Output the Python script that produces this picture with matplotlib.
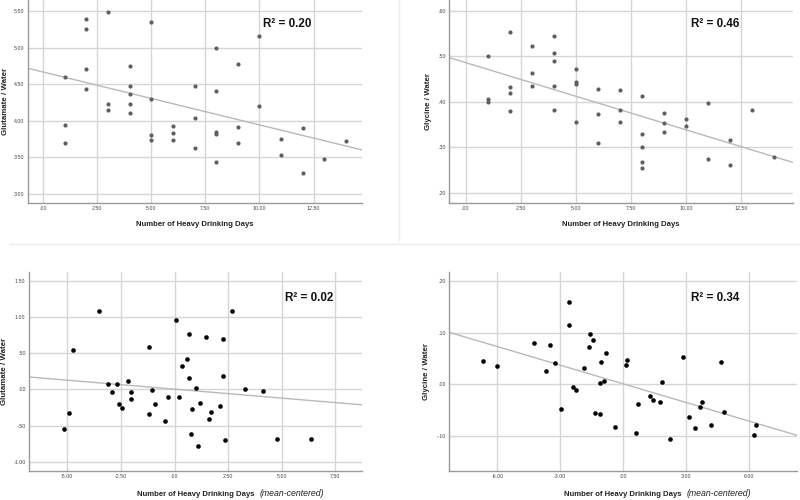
import numpy as np
import matplotlib
matplotlib.use("Agg")
import matplotlib.pyplot as plt
from matplotlib.ticker import FuncFormatter
from matplotlib.lines import Line2D

plt.rcParams['font.family'] = ['Liberation Sans', 'DejaVu Sans']

# ---------------- data ----------------
# Panel A: raw heavy drinking days vs Glutamate/Water
glu_days = [1, 1, 1, 2, 2, 2, 2, 3, 3, 3, 4, 4, 4, 4, 4, 5, 5, 5, 5, 6, 6, 6,
            7, 7, 7, 8, 8, 8, 8, 8, 9, 9, 9, 10, 10, 11, 11, 12, 12, 13, 14]
glu_vals = [4.60, 3.94, 3.70, 5.39, 5.26, 4.70, 4.43, 5.49, 4.23, 4.15,
            4.75, 4.48, 4.37, 4.23, 4.11, 5.35, 4.30, 3.81, 3.73, 3.92, 3.83, 3.73,
            4.48, 4.03, 3.62, 4.99, 4.41, 3.85, 3.82, 3.44, 4.78, 3.91, 3.69,
            5.16, 4.20, 3.75, 3.53, 3.90, 3.28, 3.48, 3.72]

# Panel B: raw heavy drinking days vs Glycine/Water
gly_days = [1, 1, 1, 2, 2, 2, 2, 3, 3, 3, 4, 4, 4, 4, 4, 5, 5, 5, 5, 6, 6, 6,
            7, 7, 7, 8, 8, 8, 8, 8, 9, 9, 9, 10, 10, 11, 11, 12, 12, 13, 14]
gly_vals = [0.500, 0.407, 0.400, 0.553, 0.433, 0.419, 0.381, 0.522, 0.464, 0.436,
            0.545, 0.508, 0.491, 0.436, 0.382, 0.472, 0.444, 0.439, 0.357,
            0.429, 0.373, 0.309, 0.426, 0.382, 0.357, 0.413, 0.329, 0.300, 0.269, 0.255,
            0.375, 0.354, 0.333, 0.362, 0.348, 0.397, 0.275, 0.317, 0.261, 0.383, 0.278]

# Panel C: mean-centered days vs Glutamate/Water (residualized)
gluc_x = [-5.16, -4.92, -4.73, -3.52, -3.08, -2.93, -2.69, -2.61, -2.44, -2.16,
          -2.04, -2.04, -1.20, -1.17, -1.03, -0.93, -0.43, -0.31, 0.07, 0.19,
          0.33, 0.60, 0.66, 0.69, 0.78, 0.81, 1.02, 1.11, 1.20, 1.45, 1.59,
          1.69, 2.11, 2.26, 2.26, 2.37, 2.70, 3.31, 4.12, 4.79, 6.37]
gluc_y = [-0.539, -0.322, 0.549, 1.085, 0.070, -0.041, 0.070, -0.207, -0.258, 0.116,
          -0.030, -0.131, 0.581, -0.336, -0.004, -0.207, -0.437, -0.100, 0.960, -0.102,
          0.324, 0.420, 0.766, 0.158, -0.617, -0.271, 0.019, -0.784, -0.184, 0.729, -0.405,
          -0.308, -0.225, 0.701, 0.180, -0.700, 1.085, 0.001, -0.022, -0.686, -0.686]

# Panel D: mean-centered days vs Glycine/Water (residualized)
glyc_x = [-6.69, -6.03, -4.26, -3.70, -3.48, -3.24, -2.97, -2.58, -2.58, -2.41,
          -2.25, -1.88, -1.61, -1.58, -1.45, -1.34, -1.10, -1.10, -1.05, -0.89,
          -0.83, -0.38, 0.14, 0.19, 0.64, 0.70, 1.29, 1.44, 1.77, 1.87, 2.23,
          2.86, 3.14, 3.43, 3.67, 3.78, 4.21, 4.69, 4.83, 6.25, 6.35]
glyc_y = [0.0448, 0.0345, 0.0797, 0.0254, 0.0758, 0.0409, -0.0470, 0.1600, 0.1147, -0.0056,
          -0.0114, 0.0319, 0.0720, 0.0965, 0.0849, -0.0554, 0.0028, -0.0567, 0.0435, 0.0073,
          0.0603, -0.0826, 0.0383, 0.0468, -0.0949, -0.0373, -0.0218, -0.0296, -0.0347, 0.0041,
          -0.1066, 0.0532, -0.0638, -0.0845, -0.0444, -0.0353, -0.0792, 0.0429, -0.0535,
          -0.0987, -0.0792]

r2_labels = ["R² = 0.20", "R² = 0.46", "R² = 0.02", "R² = 0.34"]
y_labels = ["Glutamate / Water", "Glycine / Water", "Glutamate / Water", "Glycine / Water"]
x_label = "Number of Heavy Drinking Days"
x_label_suffix = "(mean-centered)"

# ---------------- figure ----------------
W, H = 800, 500
fig = plt.figure(figsize=(8, 5), dpi=100)
fig.patch.set_facecolor("white")


def ax_px(left, top, right, bottom):
    return fig.add_axes([left / W, 1 - bottom / H, (right - left) / W, (bottom - top) / H])


def spss_fmt(v, pos=None):
    s = "%.2f" % v
    if s.startswith("0."):
        s = s[1:]
    elif s.startswith("-0."):
        s = "-" + s[2:]
    if s == "-.00":
        s = ".00"
    return s


panels = [
    dict(box=(28, 0, 362, 203), x=glu_days, y=glu_vals, xlim=(-0.694, 14.74), ylim=(2.873, 5.65),
         xt=np.arange(0, 12.51, 2.5), yt=np.arange(3.0, 5.51, 0.5), color="#5f5f5f", s=9,
         r2pos=(0.704, 0.882), ylab_px=5, xlab_px=223, centered=False),
    dict(box=(449, 0, 793, 203), x=gly_days, y=gly_vals, xlim=(-0.755, 14.84), ylim=(0.178, 0.624),
         xt=np.arange(0, 12.51, 2.5), yt=np.arange(0.2, 0.601, 0.1), color="#5f5f5f", s=9,
         r2pos=(0.703, 0.882), ylab_px=428, xlab_px=223, centered=False),
    dict(box=(29, 272, 362, 471), x=gluc_x, y=gluc_y, xlim=(-6.79, 8.75), ylim=(-1.124, 1.62),
         xt=np.arange(-5, 7.51, 2.5), yt=np.arange(-1.0, 1.51, 0.5), color="#000000", s=11,
         r2pos=(0.769, 0.869), ylab_px=5, xlab_px=493, centered=True),
    dict(box=(449, 272, 797, 471), x=glyc_x, y=glyc_y, xlim=(-8.31, 8.31), ylim=(-0.168, 0.2175),
         xt=np.arange(-6, 6.01, 3), yt=np.arange(-0.1, 0.201, 0.1), color="#000000", s=11,
         r2pos=(0.695, 0.869), ylab_px=427, xlab_px=493, centered=True),
]

suffix_jobs = []
for i, p in enumerate(panels):
    left, top, right, bottom = p["box"]
    ax = ax_px(*p["box"])
    ax.set_xlim(*p["xlim"])
    ax.set_ylim(*p["ylim"])
    ax.set_xticks(p["xt"])
    ax.set_yticks(p["yt"])
    ax.xaxis.set_major_formatter(FuncFormatter(spss_fmt))
    ax.yaxis.set_major_formatter(FuncFormatter(spss_fmt))
    ax.grid(True, color="#d6d6d6", linewidth=1.0)
    ax.set_axisbelow(True)
    for side in ("top", "right"):
        ax.spines[side].set_visible(False)
    for side in ("left", "bottom"):
        ax.spines[side].set_color("#9a9a9a")
        ax.spines[side].set_linewidth(1.0)
    ax.tick_params(length=0, labelsize=3.8, labelcolor="#444444", pad=2.5)

    x = np.array(p["x"], dtype=float)
    y = np.array(p["y"], dtype=float)
    slope, intercept = np.polyfit(x, y, 1)
    xl = np.array(p["xlim"])
    ax.plot(xl, intercept + slope * xl, color="#b9b9b9", linewidth=1.0, zorder=2)
    ax.scatter(x, y, s=p["s"], color=p["color"], linewidths=0, zorder=3)

    ax.text(p["r2pos"][0], p["r2pos"][1], r2_labels[i], transform=ax.transAxes,
            fontsize=8.4, fontweight="bold", va="center", ha="left", color="#111111")

    ax.set_ylabel(y_labels[i], fontsize=5.7, fontweight="bold", color="#222222")
    ax.yaxis.label.set_verticalalignment("center")
    ax.yaxis.set_label_coords((p["ylab_px"] - left) / (right - left), 0.5)

    ax.set_xlabel(x_label, fontsize=5.6, fontweight="bold", color="#222222")
    ax.xaxis.label.set_verticalalignment("baseline")
    ybase = (bottom - (p["xlab_px"] + 2.5)) / (bottom - top)
    ax.xaxis.set_label_coords(0.5, ybase)
    if p["centered"]:
        suffix_jobs.append((ax, ybase, left, right))

fig.canvas.draw()
for ax, ybase, left, right in suffix_jobs:
    bb = ax.xaxis.label.get_window_extent()
    xfrac = (bb.x1 + 5 - left) / (right - left)
    ax.text(xfrac, ybase, x_label_suffix, transform=ax.transAxes, va="baseline", ha="left",
            fontsize=6.3, style="italic", color="#222222", clip_on=False)

# faint panel separators
fig.add_artist(Line2D([10 / W, 1], [1 - 244 / H, 1 - 244 / H], color="#ececec", linewidth=1.0))
fig.add_artist(Line2D([399 / W, 399 / W], [1, 1 - 240 / H], color="#ececec", linewidth=1.0))

fig.savefig("out.png", dpi=100, facecolor="white")
